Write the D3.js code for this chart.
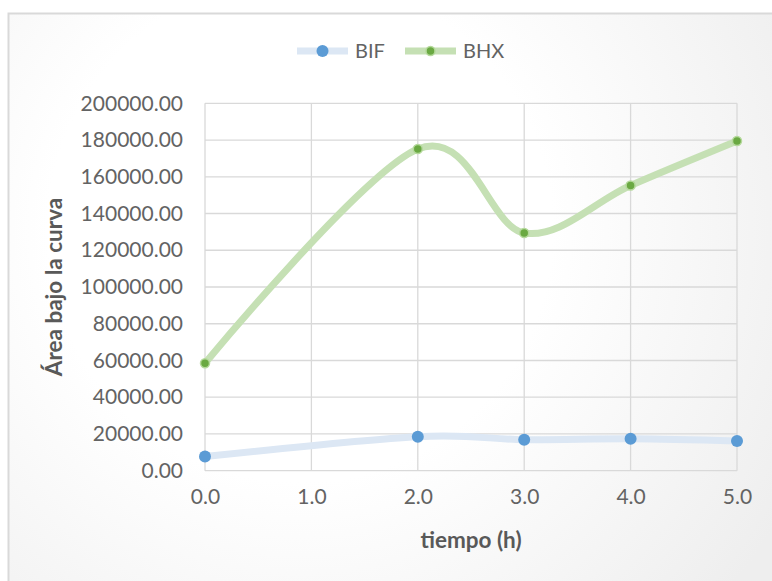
<!DOCTYPE html>
<html>
<head>
<meta charset="utf-8">
<script src="https://cdn.jsdelivr.net/npm/d3@7"></script>
<style>
  html, body { margin: 0; padding: 0; background: #ffffff; }
  svg { display: block; }
  text { font-family: Lato, "Open Sans", sans-serif; }
</style>
</head>
<body>
<svg id="chart" width="772" height="581"></svg>
<script>
// Time points (h) and area-under-curve values per series
const tiempo = [0, 2, 3, 4, 5];
const bif = [7700, 18500, 16900, 17400, 16200];
const bhx = [58500, 175100, 129400, 155300, 179500];
const seriesNames = ["BIF", "BHX"];
const xTicks = [0, 1, 2, 3, 4, 5];
const yTicks = [0, 20000, 40000, 60000, 80000, 100000, 120000, 140000, 160000, 180000, 200000];

const svg = d3.select("#chart");
const W = 772, H = 581;

// chart frame background with soft radial shading
const defs = svg.append("defs");
const grad = defs.append("radialGradient")
  .attr("id", "bg").attr("gradientUnits", "userSpaceOnUse")
  .attr("cx", 300).attr("cy", 230).attr("r", 560);
grad.append("stop").attr("offset", "0%").attr("stop-color", "#ffffff");
grad.append("stop").attr("offset", "45%").attr("stop-color", "#ffffff");
grad.append("stop").attr("offset", "100%").attr("stop-color", "#eeeeee");

svg.append("rect").attr("width", W).attr("height", H).attr("fill", "#ffffff");
svg.append("rect")
  .attr("x", 8.5).attr("y", 13.5).attr("width", W + 20).attr("height", H + 20)
  .attr("fill", "url(#bg)").attr("stroke", "#d9d9d9").attr("stroke-width", 2);

const plot = { left: 205, right: 737, top: 103.3, bottom: 470.7 };
const x = d3.scaleLinear().domain([0, 5]).range([plot.left, plot.right]);
const y = d3.scaleLinear().domain([0, 200000]).range([plot.bottom, plot.top]);

// gridlines
const grid = svg.append("g");
grid.selectAll("line.h").data(yTicks).join("line")
  .attr("x1", plot.left).attr("x2", plot.right)
  .attr("y1", d => y(d)).attr("y2", d => y(d))
  .attr("stroke", "#d9d9d9").attr("stroke-width", 1.3);
grid.selectAll("line.v").data(xTicks).join("line")
  .attr("y1", plot.top).attr("y2", plot.bottom)
  .attr("x1", d => x(d)).attr("x2", d => x(d))
  .attr("stroke", "#d9d9d9").attr("stroke-width", 1.3);

// axes (labels only; Excel-style without tick marks)
const yAxis = d3.axisLeft(y).tickValues(yTicks).tickSize(0).tickPadding(22)
  .tickFormat(d => d3.format(".2f")(d));
const gy = svg.append("g").attr("transform", `translate(${plot.left},0)`).call(yAxis);
gy.select(".domain").remove();
gy.selectAll("text").attr("fill", "#636363").style("font-size", "21px")
  .style("font-family", "Lato, sans-serif");

const xAxis = d3.axisBottom(x).tickValues(xTicks).tickSize(0).tickPadding(18)
  .tickFormat(d => d3.format(".1f")(d));
const gx = svg.append("g").attr("transform", `translate(0,${plot.bottom})`).call(xAxis);
gx.select(".domain").remove();
gx.selectAll("text").attr("fill", "#636363").style("font-size", "21px")
  .style("font-family", "Lato, sans-serif");

// axis titles
svg.append("text")
  .attr("x", (plot.left + plot.right) / 2).attr("y", 548)
  .attr("text-anchor", "middle").attr("fill", "#595959")
  .style("font-size", "22.5px").style("font-weight", "bold")
  .text("tiempo (h)");
svg.append("text")
  .attr("transform", `translate(62,${(plot.top + plot.bottom) / 2}) rotate(-90)`)
  .attr("text-anchor", "middle").attr("fill", "#595959")
  .style("font-size", "22.5px").style("font-weight", "bold")
  .text("Área bajo la curva");

// series
const styles = [
  { line: "#dce7f4", fill: "#5b9bd5", stroke: "#5b9bd5", r: 6, sw: 0 },
  { line: "#c5e0b4", fill: "#6aa942", stroke: "#b5d99c", r: 4.5, sw: 1.5 }
];
const data = [bif, bhx].map(vals => tiempo.map((t, i) => [t, vals[i]]));
const line = d3.line().x(d => x(d[0])).y(d => y(d[1])).curve(d3.curveCardinal.tension(0));

data.forEach((pts, k) => {
  const s = styles[k];
  svg.append("path").attr("d", line(pts)).attr("fill", "none")
    .attr("stroke", s.line).attr("stroke-width", 7).attr("stroke-linecap", "round");
});
data.forEach((pts, k) => {
  const s = styles[k];
  svg.append("g").selectAll("circle").data(pts).join("circle")
    .attr("cx", d => x(d[0])).attr("cy", d => y(d[1])).attr("r", s.r)
    .attr("fill", s.fill).attr("stroke", s.stroke).attr("stroke-width", s.sw);
});

// legend
const legend = [
  { name: seriesNames[0], x0: 297, tx: 355 },
  { name: seriesNames[1], x0: 405, tx: 463 }
];
legend.forEach((l, k) => {
  const s = styles[k];
  const g = svg.append("g");
  g.append("line").attr("x1", l.x0).attr("x2", l.x0 + 51).attr("y1", 51).attr("y2", 51)
    .attr("stroke", s.line).attr("stroke-width", 7);
  g.append("circle").attr("cx", l.x0 + 25.5).attr("cy", 51).attr("r", s.r)
    .attr("fill", s.fill).attr("stroke", s.stroke).attr("stroke-width", s.sw);
  g.append("text").attr("x", l.tx).attr("y", 58).attr("fill", "#636363")
    .style("font-size", "20px").text(l.name);
});
</script>
</body>
</html>
